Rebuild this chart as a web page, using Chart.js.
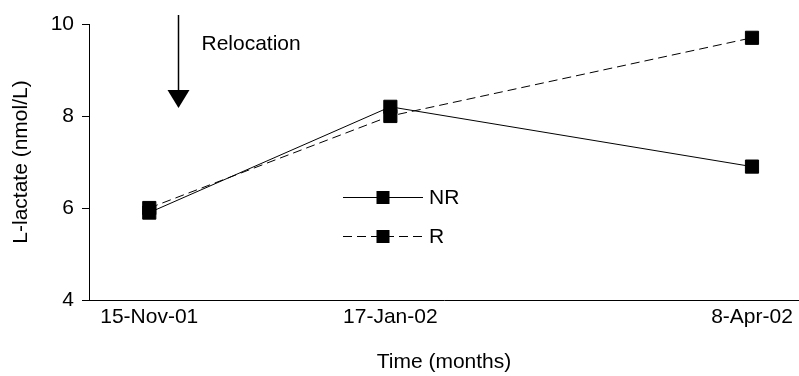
<!DOCTYPE html>
<html>
<head>
<meta charset="utf-8">
<script src="https://cdn.jsdelivr.net/npm/chart.js@4/dist/chart.umd.min.js"></script>
<style>
  html, body { margin: 0; padding: 0; background: #fff; }
  #wrap { width: 799px; height: 376px; position: relative; }
</style>
</head>
<body>
<div id="wrap"><canvas id="c" width="799" height="376"></canvas></div>
<script>
// Sampling times, in months from the first sampling
const xMonths = [0, 2, 5];
const dateLabels = ['15-Nov-01', '17-Jan-02', '8-Apr-02'];

// L-lactate (nmol/L) per group
const nrValues = [5.9, 8.2, 6.9];
const rValues = [6.0, 8.0, 9.7];

const yTicks = [4, 6, 8, 10];
const seriesNames = ['NR', 'R'];

// Relocation event, months from first sampling
const relocationMonth = 0.24;
const relocationText = 'Relocation';

const FONT = "'Liberation Sans', Arial, sans-serif";
const FS = 21;
Chart.defaults.font.family = FONT;
Chart.defaults.font.size = FS;
Chart.defaults.color = '#000';

const toPoints = vals => vals.map((v, i) => ({ x: xMonths[i], y: v }));

// Arrow + caption marking the relocation
const relocationPlugin = {
  id: 'relocation',
  afterDraw(chart) {
    const { ctx, chartArea } = chart;
    const x = Math.round(chart.scales.x.getPixelForValue(relocationMonth)) + 0.5;
    const top = chartArea.top - 9;
    const tipY = chartArea.top + 84;
    const headH = 18, headW = 11;
    ctx.save();
    ctx.strokeStyle = '#000';
    ctx.fillStyle = '#000';
    ctx.lineWidth = 1.5;
    ctx.beginPath();
    ctx.moveTo(x, top);
    ctx.lineTo(x, tipY - headH + 2);
    ctx.stroke();
    ctx.beginPath();
    ctx.moveTo(x - headW, tipY - headH);
    ctx.lineTo(x + headW, tipY - headH);
    ctx.lineTo(x, tipY);
    ctx.closePath();
    ctx.fill();
    ctx.font = FS + 'px ' + FONT;
    ctx.textAlign = 'left';
    ctx.textBaseline = 'alphabetic';
    ctx.fillText(relocationText, x + 23, chartArea.top + 26);
    ctx.restore();
  }
};

// Legend drawn inside the plot area
const innerLegendPlugin = {
  id: 'innerLegend',
  afterDraw(chart) {
    const { ctx, chartArea } = chart;
    const x0 = chartArea.left + 254;
    const x1 = x0 + 80;
    const xm = (x0 + x1) / 2;
    const rows = [chartArea.top + 173.5, chartArea.top + 212.5];
    ctx.save();
    chart.data.datasets.forEach((ds, i) => {
      const y = rows[i];
      ctx.strokeStyle = '#000';
      ctx.lineWidth = 1;
      ctx.setLineDash(ds.borderDash || []);
      ctx.beginPath();
      ctx.moveTo(x0, y);
      ctx.lineTo(x1, y);
      ctx.stroke();
      ctx.setLineDash([]);
      const s = 13;
      ctx.fillStyle = '#000';
      ctx.fillRect(xm - s / 2, y - s / 2, s, s);
      ctx.font = FS + 'px ' + FONT;
      ctx.textBaseline = 'middle';
      ctx.textAlign = 'left';
      ctx.fillText(ds.label, x1 + 6, y + 1);
    });
    ctx.restore();
  }
};

new Chart(document.getElementById('c'), {
  type: 'line',
  data: {
    datasets: [
      {
        label: seriesNames[0],
        data: toPoints(nrValues),
        borderColor: '#000',
        borderWidth: 1,
        pointStyle: 'rect',
        pointRadius: 9.3,
        pointBackgroundColor: '#000',
        pointBorderColor: '#000',
        pointBorderWidth: 1,
        fill: false,
        tension: 0
      },
      {
        label: seriesNames[1],
        data: toPoints(rValues),
        borderColor: '#000',
        borderWidth: 1,
        borderDash: [9, 5],
        pointStyle: 'rect',
        pointRadius: 9.3,
        pointBackgroundColor: '#000',
        pointBorderColor: '#000',
        pointBorderWidth: 1,
        fill: false,
        tension: 0
      }
    ]
  },
  options: {
    responsive: false,
    animation: false,
    events: [],
    layout: { autoPadding: false, padding: { top: 24, right: 0, left: 0, bottom: 0 } },
    plugins: {
      legend: { display: false },
      tooltip: { enabled: false }
    },
    scales: {
      x: {
        type: 'linear',
        min: -0.5,
        max: 5.39,
        afterBuildTicks(scale) {
          scale.ticks = xMonths.map(v => ({ value: v }));
        },
        afterFit(scale) {
          scale.height = 76;
          scale.paddingLeft = 0;
          scale.paddingRight = 0;
        },
        ticks: {
          autoSkip: false,
          maxRotation: 0,
          padding: 5,
          font: { size: FS },
          callback(value) {
            const i = xMonths.indexOf(value);
            return i >= 0 ? dateLabels[i] : '';
          }
        },
        grid: { display: false, drawTicks: false },
        border: { display: true, color: '#000', width: 1 },
        title: {
          display: true,
          text: 'Time (months)',
          font: { size: FS },
          padding: { top: 0, bottom: 1 }
        }
      },
      y: {
        type: 'linear',
        min: 4,
        max: 10,
        afterBuildTicks(scale) {
          scale.ticks = yTicks.map(v => ({ value: v }));
        },
        afterFit(scale) {
          scale.width = 89;
          scale.paddingTop = 0;
          scale.paddingBottom = 0;
        },
        ticks: { padding: 8, font: { size: FS } },
        grid: {
          display: true,
          drawOnChartArea: false,
          drawTicks: true,
          tickLength: 7,
          color: '#000'
        },
        border: { display: true, color: '#000', width: 1 },
        title: {
          display: true,
          text: 'L-lactate (nmol/L)',
          font: { size: FS },
          padding: { top: 9, bottom: 0 }
        }
      }
    }
  },
  plugins: [relocationPlugin, innerLegendPlugin]
});
</script>
</body>
</html>
